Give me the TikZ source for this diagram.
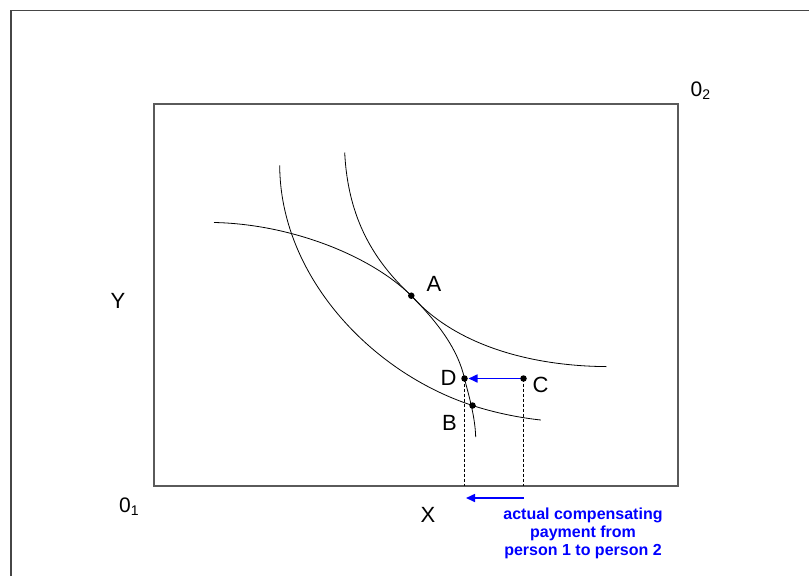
\documentclass[tikz,border=0pt]{standalone}
\usepackage{fontspec}
\setmainfont{Liberation Sans}
\usetikzlibrary{arrows.meta}
\definecolor{framegray}{RGB}{70,70,70}
\definecolor{boxgray}{RGB}{90,90,90}
\definecolor{payblue}{RGB}{0,0,255}
\tikzset{
  curve/.style={line width=0.8pt, black},
  dotpt/.style={circle, fill=black, inner sep=0pt, minimum size=6.5pt},
  lab/.style={font=\fontsize{22}{26}\selectfont, inner sep=0pt},
  orig/.style={font=\fontsize{21}{24}\selectfont, inner sep=0pt},
  guide/.style={dashed, dash pattern=on 3pt off 2pt, line width=0.6pt, black},
  bluearrow/.style={line width=1.6pt, payblue, -{Triangle[length=9pt,width=8pt]}},
  bluetext/.style={font=\fontsize{16}{18.3}\selectfont\bfseries, text=payblue, align=center, inner sep=0pt}
}
\begin{document}
\begin{tikzpicture}[x=1pt,y=-1pt]
\useasboundingbox (0,0) rectangle (809,576);
% outer frame (cut off at right and bottom)
\draw[framegray, line width=1.3pt] (11,576) -- (11,10.5) -- (809,10.5);
% inner box
\draw[boxgray, line width=1.6pt] (154,104) rectangle (678,486);
% points
\coordinate (A) at (411.3,295.7);
\coordinate (D) at (464.5,378.5);
\coordinate (C) at (523.5,378.5);
\coordinate (B) at (472.5,405.5);
\coordinate (Dbot) at (464.5,486);
\coordinate (Cbot) at (523.5,486);
\coordinate (arrS) at (523.5,498);
\coordinate (arrE) at (466,498);
% person 1 convex curve through A
\draw[curve] (344.7,152.5) .. controls (348,220) and (375,262) .. (A)
  .. controls (455,345) and (530,366) .. (606.3,366.6);
% concave curve through A, D, B
\draw[curve] (214,222.5) .. controls (290,224) and (370,255) .. (A)
  .. controls (440,325) and (458,350) .. (D)
  .. controls (468,393) and (475,415) .. (475.7,437);
% lower convex curve through B
\draw[curve] (279.7,165.3) .. controls (280,275) and (370,372) .. (B)
  .. controls (497,413.5) and (522,418) .. (540.8,420);
% dashed guides
\draw[guide] (D) -- (Dbot);
\draw[guide] (C) -- (Cbot);
% blue arrows
\draw[bluearrow] (C) -- ([xshift=4pt]D);
\draw[bluearrow] (arrS) -- (arrE);
% dots
\node[dotpt] (nA) at (A) {};
\node[dotpt] (nD) at (D) {};
\node[dotpt] (nC) at (C) {};
\node[dotpt] (nB) at (B) {};
% labels
\node[lab] (lA) at (434,283.5) {A};
\node[lab] (lD) at (448.5,378) {D};
\node[lab] (lC) at (540.5,384.5) {C};
\node[lab] (lB) at (449.5,422.5) {B};
\node[lab] (lY) at (118,301) {Y};
\node[lab] (lX) at (428,515) {X};
\node[orig, anchor=base west] (o1) at (119,512) {0\raisebox{-0.35ex}{\fontsize{14}{16}\selectfont 1}};
\node[orig, anchor=base west] (o2) at (690.5,96) {0\raisebox{-0.35ex}{\fontsize{14}{16}\selectfont 2}};
\node[bluetext] (pay) at (583,533.5) {actual compensating\\payment from\\person 1 to person 2};
\end{tikzpicture}
\end{document}
